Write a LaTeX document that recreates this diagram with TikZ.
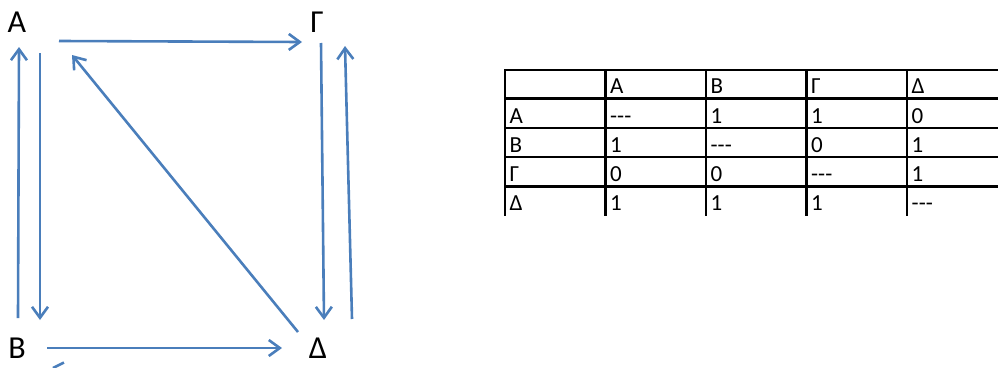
\documentclass[tikz,border=0pt]{standalone}
\usepackage{fontspec}
\setmainfont{Carlito}
\usetikzlibrary{arrows.meta}
\definecolor{edgeblue}{RGB}{74,126,187}
\tikzset{
  vlabel/.style={inner sep=0pt, font=\fontsize{32}{34}\selectfont},
  edge/.style={draw=edgeblue, line width=2.6pt,
    -{Straight Barb[length=11pt,width=16pt,line width=2.6pt]}},
  stub/.style={draw=edgeblue, line width=2.6pt},
  grid/.style={draw=black, line width=2.4pt},
  cell/.style={anchor=base west, inner sep=0pt, font=\fontsize{23}{25}\selectfont}
}
\begin{document}
\begin{tikzpicture}[x=1pt,y=-1pt]
\useasboundingbox (0,0) rectangle (998,367);

% vertex labels
\node[vlabel] (A) at (17,22) {Α};
\node[vlabel] (G) at (317,22) {Γ};
\node[vlabel] (B) at (17,348) {Β};
\node[vlabel] (D) at (318,348) {Δ};

% end points of the edges
\coordinate (aG1) at (59,41);   \coordinate (aG2) at (302,42);
\coordinate (bA1) at (18,318);  \coordinate (bA2) at (19,47);
\coordinate (aB1) at (40,53);   \coordinate (aB2) at (40,320);
\coordinate (dA1) at (298,332); \coordinate (dA2) at (72,55);
\coordinate (gD1) at (321,43);  \coordinate (gD2) at (324,320);
\coordinate (dG1) at (352,319); \coordinate (dG2) at (345,46);
\coordinate (bD1) at (47,348);  \coordinate (bD2) at (282,348);
\coordinate (s1) at (53,368);   \coordinate (s2) at (64,362.5);

\path[edge] (aG1) -- (aG2);
\path[edge] (bA1) -- (bA2);
\path[edge] (aB1) -- (aB2);
\path[edge] (dA1) -- (dA2);
\path[edge] (gD1) -- (gD2);
\path[edge] (dG1) -- (dG2);
\path[edge] (bD1) -- (bD2);
\path[stub] (s1) -- (s2);

% adjacency table
\foreach \y in {70,98.5,128,157,186.5}
  \draw[grid] (505,\y) -- (998,\y);
\foreach \x in {505,605.5,706,806.5,907}
  \draw[grid] (\x,69) -- (\x,216);

% header row
\node[cell] (hA) at (610,93) {Α};
\node[cell] (hB) at (710.5,93) {Β};
\node[cell] (hG) at (811,93) {Γ};
\node[cell] (hD) at (911.5,93) {Δ};
% row labels
\node[cell] (rA) at (509.5,123) {Α};
\node[cell] (rB) at (509.5,152) {Β};
\node[cell] (rG) at (509.5,181) {Γ};
\node[cell] (rD) at (509.5,210.5) {Δ};
% entries
\node[cell] (c11) at (610,123) {-{}-{}-};
\node[cell] (c12) at (710.5,123) {1};
\node[cell] (c13) at (811,123) {1};
\node[cell] (c14) at (911.5,123) {0};
\node[cell] (c21) at (610,152) {1};
\node[cell] (c22) at (710.5,152) {-{}-{}-};
\node[cell] (c23) at (811,152) {0};
\node[cell] (c24) at (911.5,152) {1};
\node[cell] (c31) at (610,181) {0};
\node[cell] (c32) at (710.5,181) {0};
\node[cell] (c33) at (811,181) {-{}-{}-};
\node[cell] (c34) at (911.5,181) {1};
\node[cell] (c41) at (610,210.5) {1};
\node[cell] (c42) at (710.5,210.5) {1};
\node[cell] (c43) at (811,210.5) {1};
\node[cell] (c44) at (911.5,210.5) {-{}-{}-};
\end{tikzpicture}
\end{document}
